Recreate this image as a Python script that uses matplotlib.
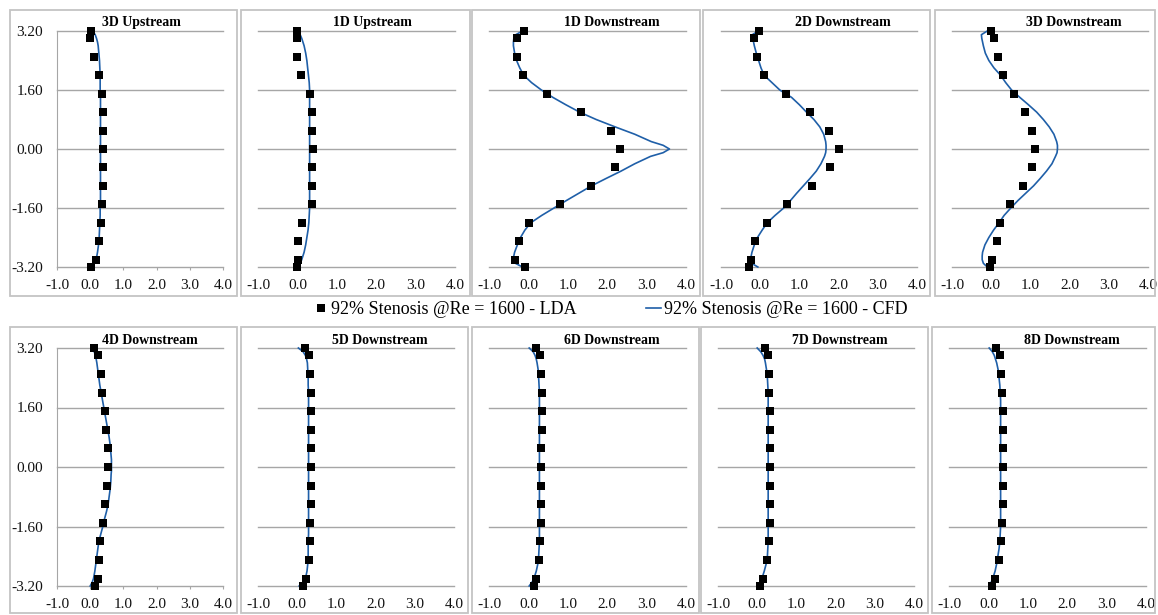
import matplotlib
matplotlib.use("Agg")
import matplotlib.pyplot as plt
from matplotlib.patches import Rectangle

plt.rcParams["font.family"] = ["Liberation Serif", "DejaVu Serif"]
plt.rcParams["axes.unicode_minus"] = False

# ---- data ----
TITLES = ["3D Upstream", "1D Upstream", "1D Downstream", "2D Downstream", "3D Downstream",
          "4D Downstream", "5D Downstream", "6D Downstream", "7D Downstream", "8D Downstream"]

Y_TICKS = [3.2, 1.6, 0.0, -1.6, -3.2]
Y_TICK_LABELS = ["3.20", "1.60", "0.00", "-1.60", "-3.20"]
X_TICKS = [-1, 0, 1, 2, 3, 4]
X_TICK_LABELS = ["-1.0", "0.0", "1.0", "2.0", "3.0", "4.0"]

# radial positions of the LDA points / CFD profile
Y_LDA = [3.2, 3.0, 2.5, 2.0, 1.5, 1.0, 0.5, 0.0, -0.5, -1.0, -1.5, -2.0, -2.5, -3.0, -3.2]
Y_CFD = [3.2, 3.1, 3.0, 2.9, 2.8,
         2.6, 2.4, 2.2, 2.0, 1.8, 1.6, 1.4, 1.2, 1.0, 0.8, 0.6, 0.4, 0.2,
         0.1, 0.0, -0.1,
         -0.2, -0.4, -0.6, -0.8, -1.0, -1.2, -1.4, -1.6, -1.8, -2.0, -2.2, -2.4, -2.6,
         -2.8, -2.9, -3.0, -3.1, -3.2]

LDA_3D_UP = [0.01, -0.01, 0.12, 0.27, 0.35, 0.39, 0.39, 0.39, 0.39, 0.39, 0.37, 0.32, 0.26, 0.18, 0.03]
CFD_3D_UP = [0.07, 0.15, 0.19, 0.22, 0.24,
             0.26, 0.28, 0.29, 0.30, 0.30, 0.30, 0.31, 0.31, 0.31, 0.31, 0.31, 0.31, 0.31,
             0.31, 0.31, 0.31,
             0.31, 0.31, 0.31, 0.31, 0.31, 0.31, 0.31, 0.30, 0.30, 0.29, 0.28, 0.27, 0.25,
             0.22, 0.20, 0.17, 0.12, 0.06]

LDA_1D_UP = [0.00, 0.00, 0.00, 0.09, 0.31, 0.36, 0.37, 0.39, 0.37, 0.37, 0.36, 0.12, 0.02, 0.02, 0.00]
CFD_1D_UP = [0.02, 0.07, 0.11, 0.14, 0.17,
             0.21, 0.24, 0.26, 0.28, 0.30, 0.31, 0.31, 0.31, 0.31, 0.31, 0.31, 0.31, 0.31,
             0.31, 0.31, 0.31,
             0.31, 0.31, 0.31, 0.31, 0.31, 0.31, 0.31, 0.31, 0.30, 0.29, 0.27, 0.24, 0.21,
             0.17, 0.14, 0.11, 0.07, 0.02]

LDA_1D_DN = [-0.12, -0.28, -0.28, -0.14, 0.47, 1.33, 2.09, 2.33, 2.19, 1.60, 0.80, 0.01, -0.24, -0.33, -0.08]
CFD_1D_DN = [-0.15, -0.32, -0.37, -0.38, -0.38,
             -0.35, -0.30, -0.22, -0.12, 0.08, 0.33, 0.62, 0.95, 1.30, 1.72, 2.20, 2.70, 3.12,
             3.42, 3.58, 3.42,
             3.10, 2.70, 2.35, 1.97, 1.60, 1.28, 0.96, 0.65, 0.34, 0.06, -0.09, -0.20, -0.28,
             -0.35, -0.37, -0.37, -0.33, -0.15]

LDA_2D_DN = [-0.02, -0.17, -0.07, 0.10, 0.66, 1.28, 1.76, 2.00, 1.79, 1.31, 0.69, 0.18, -0.13, -0.23, -0.28]
CFD_2D_DN = [-0.05, -0.20, -0.19, -0.17, -0.15,
             -0.10, -0.04, 0.02, 0.10, 0.30, 0.50, 0.80, 1.00, 1.18, 1.37, 1.52, 1.62, 1.67,
             1.68, 1.68, 1.67,
             1.64, 1.55, 1.43, 1.27, 1.10, 0.93, 0.77, 0.60, 0.38, 0.18, 0.05, -0.07, -0.15,
             -0.21, -0.23, -0.24, -0.22, -0.06]

LDA_3D_DN = [0.00, 0.06, 0.17, 0.31, 0.59, 0.85, 1.05, 1.13, 1.03, 0.81, 0.49, 0.23, 0.14, 0.03, -0.04]
CFD_3D_DN = [-0.10, -0.25, -0.24, -0.22, -0.20,
             -0.15, -0.06, 0.07, 0.24, 0.37, 0.52, 0.73, 0.95, 1.16, 1.33, 1.48, 1.60, 1.67,
             1.69, 1.69, 1.68,
             1.64, 1.55, 1.41, 1.25, 1.08, 0.88, 0.68, 0.50, 0.33, 0.20, 0.06, -0.06, -0.16,
             -0.22, -0.23, -0.23, -0.20, -0.10]

LDA_4D_DN = [0.11, 0.24, 0.32, 0.36, 0.44, 0.49, 0.54, 0.54, 0.51, 0.46, 0.39, 0.31, 0.28, 0.23, 0.15]
CFD_4D_DN = [0.06, 0.12, 0.16, 0.18, 0.20,
             0.23, 0.26, 0.29, 0.33, 0.37, 0.41, 0.45, 0.49, 0.53, 0.57, 0.60, 0.62, 0.64,
             0.64, 0.64, 0.64,
             0.63, 0.62, 0.60, 0.57, 0.54, 0.49, 0.43, 0.38, 0.32, 0.26, 0.23, 0.20, 0.17,
             0.14, 0.12, 0.10, 0.06, 0.00]

LDA_5D_DN = [0.21, 0.31, 0.33, 0.35, 0.35, 0.36, 0.36, 0.36, 0.34, 0.34, 0.33, 0.32, 0.30, 0.22, 0.14]
CFD_5D_DN = [0.03, 0.15, 0.21, 0.24, 0.26,
             0.27, 0.28, 0.28, 0.29, 0.29, 0.29, 0.29, 0.29, 0.29, 0.29, 0.29, 0.29, 0.29,
             0.29, 0.29, 0.29,
             0.29, 0.29, 0.29, 0.29, 0.29, 0.29, 0.29, 0.29, 0.29, 0.28, 0.28, 0.28, 0.27,
             0.25, 0.23, 0.20, 0.15, 0.05]

LDA_6D_DN = [0.19, 0.30, 0.31, 0.34, 0.34, 0.34, 0.33, 0.33, 0.33, 0.32, 0.31, 0.30, 0.27, 0.19, 0.13]
CFD_6D_DN = [0.02, 0.12, 0.17, 0.20, 0.22,
             0.25, 0.26, 0.27, 0.28, 0.28, 0.28, 0.28, 0.28, 0.28, 0.28, 0.28, 0.28, 0.28,
             0.28, 0.28, 0.28,
             0.28, 0.28, 0.28, 0.28, 0.28, 0.28, 0.28, 0.28, 0.28, 0.28, 0.27, 0.26, 0.24,
             0.20, 0.17, 0.14, 0.09, 0.02]

LDA_7D_DN = [0.19, 0.27, 0.30, 0.31, 0.33, 0.33, 0.33, 0.33, 0.33, 0.33, 0.33, 0.30, 0.26, 0.16, 0.06]
CFD_7D_DN = [0.00, 0.09, 0.15, 0.19, 0.21,
             0.24, 0.26, 0.27, 0.28, 0.28, 0.28, 0.28, 0.28, 0.28, 0.28, 0.28, 0.28, 0.28,
             0.28, 0.28, 0.28,
             0.28, 0.28, 0.28, 0.28, 0.28, 0.28, 0.28, 0.28, 0.28, 0.28, 0.27, 0.26, 0.23,
             0.18, 0.15, 0.12, 0.08, 0.02]

LDA_8D_DN = [0.19, 0.29, 0.31, 0.34, 0.36, 0.36, 0.36, 0.36, 0.36, 0.36, 0.34, 0.31, 0.26, 0.17, 0.10]
CFD_8D_DN = [0.02, 0.10, 0.15, 0.18, 0.21,
             0.25, 0.27, 0.29, 0.30, 0.31, 0.31, 0.31, 0.31, 0.31, 0.31, 0.31, 0.31, 0.31,
             0.31, 0.31, 0.31,
             0.31, 0.31, 0.31, 0.31, 0.31, 0.31, 0.31, 0.31, 0.30, 0.29, 0.27, 0.24, 0.21,
             0.17, 0.14, 0.11, 0.07, 0.03]

LDA_ALL = [LDA_3D_UP, LDA_1D_UP, LDA_1D_DN, LDA_2D_DN, LDA_3D_DN,
           LDA_4D_DN, LDA_5D_DN, LDA_6D_DN, LDA_7D_DN, LDA_8D_DN]
CFD_ALL = [CFD_3D_UP, CFD_1D_UP, CFD_1D_DN, CFD_2D_DN, CFD_3D_DN,
           CFD_4D_DN, CFD_5D_DN, CFD_6D_DN, CFD_7D_DN, CFD_8D_DN]

LBL_LDA = "92% Stenosis @Re = 1600 - LDA"
LBL_CFD = "92% Stenosis @Re = 1600 - CFD"

# ---- layout in pixels ----
W, H = 1158, 615
ROW_Y = [(31, 267), (348, 586)]          # plot area top/bottom
BOX_Y = [(10, 296), (327, 613)]          # chart frame top/bottom
AX_X = [[(57, 223), (258, 455), (489, 686), (721, 917), (952, 1148)],
        [(57, 223), (258, 454), (489, 686), (718, 914), (949, 1146)]]
BOX_X = [[(10, 237), (241, 470), (472, 700), (703, 930), (935, 1155)],
         [(10, 237), (241, 468), (472, 699), (701, 928), (932, 1155)]]

C_LINE = "#1f5fa8"
C_GRID = "#a6a6a6"
C_BOX = "#c4c4c4"

fig = plt.figure(figsize=(W / 100, H / 100), dpi=100)

handles = None
for r in range(2):
    yt, yb = ROW_Y[r]
    bt, bb = BOX_Y[r]
    for c in range(5):
        i = r * 5 + c
        bx0, bx1 = BOX_X[r][c]
        fig.patches.append(Rectangle((bx0 / W, 1 - bb / H), (bx1 - bx0) / W, (bb - bt) / H,
                                     transform=fig.transFigure, fill=False,
                                     edgecolor=C_BOX, lw=1.3))
        x0, x1 = AX_X[r][c]
        ax = fig.add_axes([x0 / W, 1 - yb / H, (x1 - x0) / W, (yb - yt) / H])
        ax.patch.set_alpha(0)
        for yv in Y_TICKS:
            ax.axhline(yv, color=C_GRID, lw=1.0, zorder=1, clip_on=False)
        ln, = ax.plot(CFD_ALL[i], Y_CFD, color=C_LINE, lw=1.2, zorder=2,
                      clip_on=False, label=LBL_CFD)
        pt, = ax.plot(LDA_ALL[i], Y_LDA, ls="none", marker="s", ms=5.6, mew=0,
                      color="black", zorder=3, clip_on=False, label=LBL_LDA)
        if handles is None:
            handles = [pt, ln]
        ax.set_xlim(-1, 4)
        ax.set_ylim(-3.2, 3.2)
        ax.set_xticks(X_TICKS)
        ax.set_xticklabels(X_TICK_LABELS)
        ax.set_yticks(Y_TICKS)
        for sp in ax.spines.values():
            sp.set_visible(False)
        if c == 0:
            ax.set_yticklabels(Y_TICK_LABELS)
            ax.spines["left"].set_visible(True)
            ax.spines["left"].set_color(C_GRID)
            ax.tick_params(axis="x", length=2.5, color=C_GRID, pad=6)
            tx = 0.27
        else:
            ax.set_yticklabels([])
            ax.tick_params(axis="x", length=0, pad=8.3)
            tx = 0.38
        ax.tick_params(axis="y", length=0, pad=10)
        ax.tick_params(labelsize=11, labelcolor="#111111")
        ax.text(tx, 1 + 8 / (yb - yt), TITLES[i], transform=ax.transAxes,
                ha="left", va="center", fontsize=10, fontweight="bold")

fig.legend(handles=handles, loc="center", bbox_to_anchor=(0.527, 1 - 310 / H),
           ncol=2, frameon=False, fontsize=13, handlelength=0.85, handletextpad=0.15,
           columnspacing=3.8, borderpad=0)

fig.savefig("out.png", dpi=100)
